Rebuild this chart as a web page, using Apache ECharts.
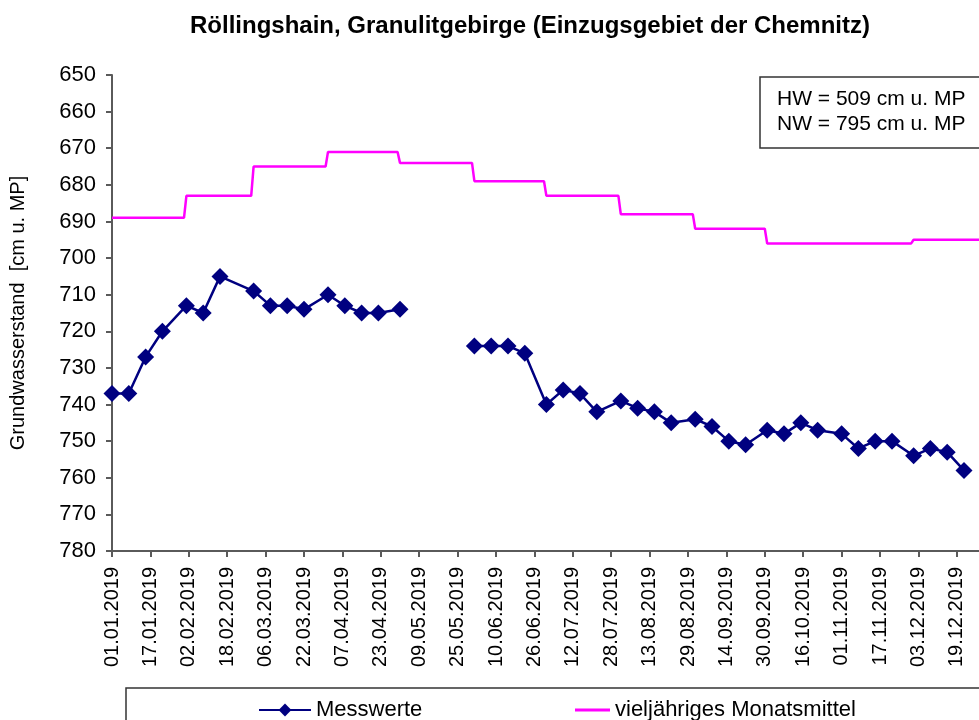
<!DOCTYPE html>
<html>
<head>
<meta charset="utf-8">
<script src="https://cdn.jsdelivr.net/npm/echarts@6/dist/echarts.min.js"></script>
<style>
  html, body { margin: 0; padding: 0; background: #fff; }
  #chart { width: 979px; height: 720px; }
</style>
</head>
<body>
<div id="chart"></div>
<script>
// Messwerte (Stichtage) und Grundwasserstand in cm u. MP, null = keine Messung
var messDates = [
  '01.01.2019', '08.01.2019', '15.01.2019', '22.01.2019',
  '01.02.2019', '08.02.2019', '15.02.2019',
  '01.03.2019', '08.03.2019', '15.03.2019', '22.03.2019',
  '01.04.2019', '08.04.2019', '15.04.2019', '22.04.2019',
  '01.05.2019', '08.05.2019',
  '01.06.2019', '08.06.2019', '15.06.2019', '22.06.2019',
  '01.07.2019', '08.07.2019', '15.07.2019', '22.07.2019',
  '01.08.2019', '08.08.2019', '15.08.2019', '22.08.2019',
  '01.09.2019', '08.09.2019', '15.09.2019', '22.09.2019',
  '01.10.2019', '08.10.2019', '15.10.2019', '22.10.2019',
  '01.11.2019', '08.11.2019', '15.11.2019', '22.11.2019',
  '01.12.2019', '08.12.2019', '15.12.2019', '22.12.2019'
];
var messValues = [
  737, 737, 727, 720,
  713, 715, 705,
  709, 713, 713, 714,
  710, 713, 715, 715,
  714, null,
  724, 724, 724, 726,
  740, 736, 737, 742,
  739, 741, 742, 745,
  744, 746, 750, 751,
  747, 748, 745, 747,
  748, 752, 750, 750,
  754, 752, 753, 758
];

// vieljaehriges Monatsmittel (Jan..Dez)
var monthMeans = [689, 683, 675, 671, 674, 679, 683, 688, 692, 696, 696, 695];

var yTicks = { min: 650, max: 780, interval: 10 };
var xStep = 16; // Tage zwischen den Achsenbeschriftungen

var title = 'Röllingshain, Granulitgebirge (Einzugsgebiet der Chemnitz)';
var infoLines = ['HW = 509 cm u. MP', 'NW = 795 cm u. MP'];

var T0 = Date.UTC(2019, 0, 1);
var DAY = 86400000;

function dayOf(s) {
  var p = s.split('.');
  return (Date.UTC(+p[2], +p[1] - 1, +p[0]) - T0) / DAY;
}
function pad(n) { return (n < 10 ? '0' : '') + n; }
function labelOf(d) {
  var t = new Date(T0 + d * DAY);
  return pad(t.getUTCDate()) + '.' + pad(t.getUTCMonth() + 1) + '.' + t.getUTCFullYear();
}

var messData = messDates.map(function (d, i) {
  return [dayOf(d), messValues[i] === null ? '-' : messValues[i]];
});

var meanData = [];
monthMeans.forEach(function (v, m) {
  var start = (Date.UTC(2019, m, 1) - T0) / DAY;
  var end = (Date.UTC(2019, m + 1, 1) - T0) / DAY - 1;
  meanData.push([start, v]);
  meanData.push([end, v]);
});

var font = 'Liberation Sans, Arial, sans-serif';
var axisColor = '#5a5a5a';
var legendText = { fontFamily: font, fontSize: 22, color: '#000' };

var chart = echarts.init(document.getElementById('chart'));
chart.setOption({
  backgroundColor: '#fff',
  animation: false,
  title: {
    text: title,
    left: 525,
    textAlign: 'center',
    top: 9,
    textStyle: { fontFamily: font, fontSize: 24, fontWeight: 'bold', color: '#000' }
  },
  // Zeichenflaeche reicht rechts ueber den Bildrand hinaus (bis 01.01.2020)
  grid: {
    left: 112, top: 75, width: 876, height: 476,
    containLabel: false,
    outerBoundsMode: 'none'
  },
  xAxis: {
    type: 'value',
    min: 0,
    max: 365,
    interval: xStep,
    splitLine: { show: false },
    axisLine: { lineStyle: { color: axisColor, width: 2 } },
    axisTick: { show: true, length: 6, lineStyle: { color: axisColor, width: 2 } },
    axisLabel: {
      rotate: 90,
      margin: 16,
      fontFamily: font,
      fontSize: 20,
      color: '#000',
      formatter: function (v) { return v % xStep === 0 ? labelOf(v) : ''; }
    }
  },
  yAxis: {
    type: 'value',
    inverse: true,
    min: yTicks.min,
    max: yTicks.max,
    interval: yTicks.interval,
    name: 'Grundwasserstand  [cm u. MP]',
    nameLocation: 'middle',
    nameGap: 84,
    nameTextStyle: { fontFamily: font, fontSize: 20, color: '#000' },
    splitLine: { show: false },
    axisLine: { show: true, lineStyle: { color: axisColor, width: 2 } },
    axisTick: { show: true, length: 6, lineStyle: { color: axisColor, width: 2 } },
    axisLabel: { margin: 16, fontFamily: font, fontSize: 22, color: '#000' }
  },
  legend: [
    {
      left: 258,
      top: 699,
      padding: 0,
      itemWidth: 52,
      itemHeight: 16,
      textStyle: legendText,
      data: ['Messwerte']
    },
    {
      left: 575,
      top: 699,
      padding: 0,
      itemWidth: 35,
      itemHeight: 16,
      textStyle: legendText,
      data: [{ name: 'vieljähriges Monatsmittel', icon: 'path://M0,0 L35,0 L35,3 L0,3 Z' }]
    }
  ],
  graphic: [
    {
      type: 'rect',
      shape: { x: 760, y: 77, width: 240, height: 71 },
      style: { fill: '#fff', stroke: '#333', lineWidth: 1.5 },
      z: 10
    },
    {
      type: 'text',
      left: 777,
      top: 87,
      style: {
        text: infoLines.join('\n'),
        font: '21px ' + font,
        lineHeight: 25,
        fill: '#000'
      },
      z: 11
    },
    {
      type: 'rect',
      shape: { x: 126, y: 688, width: 880, height: 60 },
      style: { fill: 'none', stroke: '#333', lineWidth: 1.5 },
      z: 10
    }
  ],
  series: [
    {
      name: 'vieljähriges Monatsmittel',
      type: 'line',
      data: meanData,
      showSymbol: false,
      symbol: 'none',
      lineStyle: { color: '#ff00ff', width: 2.5 },
      itemStyle: { color: '#ff00ff' },
      z: 2
    },
    {
      name: 'Messwerte',
      type: 'line',
      data: messData,
      connectNulls: false,
      symbol: 'diamond',
      symbolSize: 17,
      lineStyle: { color: '#000080', width: 2.5 },
      itemStyle: { color: '#000080' },
      z: 3
    }
  ]
});
</script>
</body>
</html>
